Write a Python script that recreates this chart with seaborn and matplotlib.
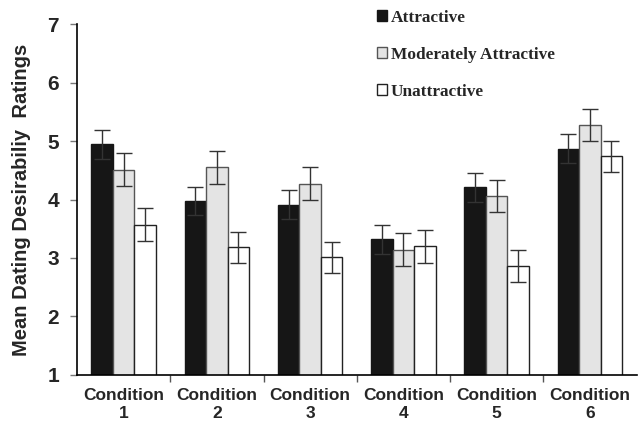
"""
Mean dating desirability ratings by condition and attractiveness level.
Grouped bar chart with standard error bars, saved as out.png.
"""

import matplotlib.pyplot as plt
import pandas as pd
import seaborn as sns
from matplotlib.font_manager import FontProperties

# ==========================================================
# Data
# ==========================================================

CONDITIONS = ["Condition\n1", "Condition\n2", "Condition\n3",
              "Condition\n4", "Condition\n5", "Condition\n6"]

LEVELS = ["Attractive", "Moderately Attractive", "Unattractive"]

ATTRACTIVE = [4.95, 3.98, 3.91, 3.32, 4.21, 4.87]
MODERATE = [4.51, 4.55, 4.27, 3.14, 4.06, 5.28]
UNATTRACTIVE = [3.57, 3.18, 3.01, 3.20, 2.86, 4.74]

ATTRACTIVE_ERR = [0.25, 0.24, 0.25, 0.25, 0.25, 0.25]
MODERATE_ERR = [0.28, 0.29, 0.28, 0.28, 0.28, 0.28]
UNATTRACTIVE_ERR = [0.28, 0.27, 0.27, 0.28, 0.27, 0.27]

Y_LABEL = "Mean Dating Desirabiliy  Ratings"

# ==========================================================
# Style
# ==========================================================

FILL = ["#161616", "#e4e4e4", "#ffffff"]
EDGE = ["#161616", "#555555", "#222222"]

sns.set_style("white")
plt.rcParams["font.family"] = ["Liberation Sans", "DejaVu Sans"]

df = pd.DataFrame({
    "condition": CONDITIONS * 3,
    "level": [lv for lv in LEVELS for _ in CONDITIONS],
    "rating": ATTRACTIVE + MODERATE + UNATTRACTIVE,
})

errors = [ATTRACTIVE_ERR, MODERATE_ERR, UNATTRACTIVE_ERR]

# ==========================================================
# Plot
# ==========================================================

fig = plt.figure(figsize=(6.38, 4.25), dpi=100)
ax = fig.add_axes([0.1207, 0.1184, 0.877, 0.824])

sns.barplot(
    data=df,
    x="condition",
    y="rating",
    hue="level",
    order=CONDITIONS,
    hue_order=LEVELS,
    palette=FILL,
    errorbar=None,
    width=0.69,
    saturation=1,
    legend=False,
    ax=ax
)

for container, edge, errs in zip(ax.containers, EDGE, errors):
    xs = []
    ys = []
    for bar in container:
        bar.set_edgecolor(edge)
        bar.set_linewidth(1.0)
        xs.append(bar.get_x() + bar.get_width() / 2)
        ys.append(bar.get_height())
    ax.errorbar(
        xs, ys, yerr=errs,
        fmt="none",
        ecolor="#333333",
        elinewidth=1.0,
        capsize=5.5,
        capthick=1.0,
        zorder=3
    )

# ----------------------------------------------------------
# Axes
# ----------------------------------------------------------

ax.set_ylim(1, 7)
ax.set_xlim(-0.5, len(CONDITIONS) - 0.5)
ax.set_yticks(range(1, 8))

ax.set_xticks([i + 0.5 for i in range(len(CONDITIONS) - 1)], minor=True)
ax.tick_params(axis="x", which="major", length=0, pad=9.5,
               labelsize=12.5)
ax.tick_params(axis="x", which="minor", length=5, width=1,
               color="#555555", direction="out", bottom=True)
ax.tick_params(axis="y", length=5, width=1, color="#777777",
               direction="out", left=True, pad=8, labelsize=15)

for label in ax.get_xticklabels():
    label.set_fontweight("bold")
    label.set_linespacing(1.3)
for label in ax.get_yticklabels():
    label.set_fontweight("bold")

ax.set_xlabel("")
ax.set_ylabel(Y_LABEL, fontsize=14.5, fontweight="bold", labelpad=12)

sns.despine(ax=ax)
for side in ["left", "bottom"]:
    ax.spines[side].set_color("black")
    ax.spines[side].set_linewidth(1.2)

# ----------------------------------------------------------
# Legend
# ----------------------------------------------------------

handles = [container[0] for container in ax.containers]
legend_font = FontProperties(family="Liberation Serif", weight="bold",
                             size=12.4)

fig.legend(
    handles, LEVELS,
    loc="upper left",
    bbox_to_anchor=(377 / 638, 1 - 10 / 425),
    frameon=False,
    prop=legend_font,
    handlelength=0.6,
    handleheight=0.6,
    handletextpad=0.2,
    labelspacing=1.22,
    borderpad=0,
    borderaxespad=0
)

fig.savefig("out.png", dpi=100)
